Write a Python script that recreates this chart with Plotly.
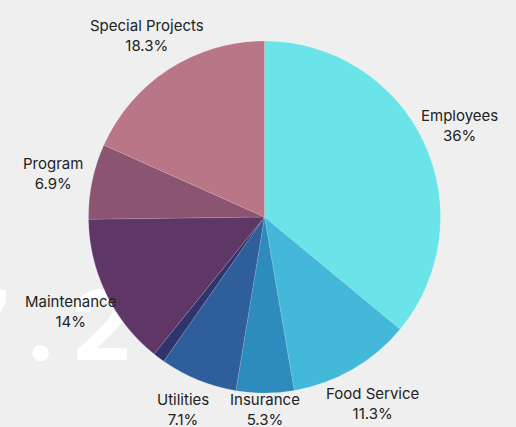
import math
import plotly.graph_objects as go

labels = ["Employees", "Food Service", "Insurance", "Utilities", "Other",
          "Maintenance", "Program", "Special Projects"]
values = [36, 11.3, 5.3, 7.1, 1.1, 14, 6.9, 18.3]
colors = ["#6ae4e8", "#44b8d8", "#2e8bbd", "#2e5f9b", "#30346c",
          "#5f3766", "#8b5572", "#b87686"]
show_text = [True, True, True, True, False, True, True, True]

W, H = 516, 427
cx, cy, r = 264.5, 217, 176
label_r = 216

fig = go.Figure()

# background watermark (drawn beneath the pie)
fig.add_trace(go.Scatter(
    x=[132 / W], y=[0.214], mode="text", text=["7\u2009.\u20092"],
    textposition="middle left",
    textfont=dict(family="Inter", size=96, color="#ffffff"),
    hoverinfo="skip", showlegend=False, xaxis="x", yaxis="y",
    texttemplate="<b>%{text}</b>",
))

fig.add_trace(go.Pie(
    labels=labels, values=values,
    marker=dict(colors=colors, line=dict(color="rgba(255,255,255,0.25)", width=0.5)),
    sort=False, direction="clockwise", rotation=0,
    textinfo="none",
    domain=dict(x=[(cx - r) / W, (cx + r) / W],
                y=[1 - (cy + r) / H, 1 - (cy - r) / H]),
    showlegend=False,
))

# outside labels placed at each slice's mid-angle
total = sum(values)
cum = 0.0
annotations = []
for lab, val, show in zip(labels, values, show_text):
    mid = (cum + val / 2) / total * 2 * math.pi
    cum += val
    if not show:
        continue
    px = cx + label_r * math.sin(mid)
    py = cy - label_r * math.cos(mid)
    py = min(py, H - 18)
    pct = val / total * 100
    pct_txt = f"{pct:.1f}".rstrip("0").rstrip(".") + "%"
    annotations.append(dict(
        x=px / W, y=1 - py / H, xref="paper", yref="paper",
        text=f"{lab}<br>{pct_txt}", showarrow=False,
        xanchor="center", yanchor="middle", align="center",
        font=dict(family="Inter", size=15, color="#222222"),
    ))

fig.update_layout(
    width=W, height=H,
    margin=dict(l=0, r=0, t=0, b=0),
    paper_bgcolor="#efefef", plot_bgcolor="rgba(0,0,0,0)",
    xaxis=dict(visible=False, range=[0, 1], domain=[0, 1], fixedrange=True),
    yaxis=dict(visible=False, range=[0, 1], domain=[0, 1], fixedrange=True),
    annotations=annotations,
)

fig.write_html(
    "out.html",
    config={"displayModeBar": False},
    post_script="document.body.style.margin='0';document.body.style.background='#efefef';",
)
